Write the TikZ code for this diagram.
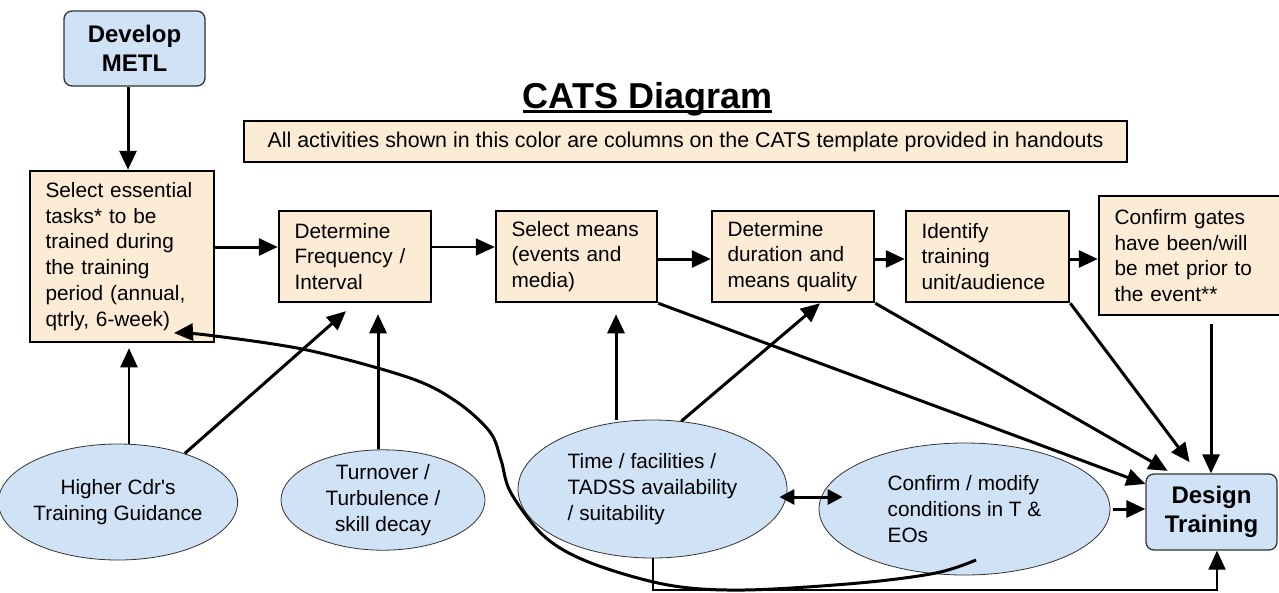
\documentclass[tikz,border=0pt]{standalone}
\usepackage{fontspec}
\setmainfont{Liberation Sans}
\newfontfamily\plainsans{Liberation Sans}
\usetikzlibrary{shapes.geometric,arrows.meta,calc}
\definecolor{peach}{RGB}{252,235,213}
\definecolor{skyb}{RGB}{208,226,246}
\newcommand\bodyf{\fontsize{20.8}{25.8}\selectfont}
\newcommand\boldf{\fontsize{24}{29.5}\selectfont\bfseries}
\newsavebox\tbox
\newcommand\ulbold[1]{\sbox\tbox{#1}\usebox\tbox\llap{\rule[-5pt]{\wd\tbox}{2.6pt}}}
\begin{document}
\begin{tikzpicture}[x=1pt,y=-1pt,
  pbox/.style={draw, line width=2.5pt, fill=peach, align=left, inner xsep=15.5pt, inner ysep=0pt, font=\bodyf},
  bbox/.style={draw=black!80, line width=1.3pt, fill=skyb, rounded corners=8pt, align=center, font=\boldf, inner sep=0pt},
  oval/.style={ellipse, draw=black!80, line width=0.8pt, fill=skyb, inner sep=0pt, font=\bodyf},
  arr/.style={line width=3pt, -{Triangle[length=19pt,width=17pt]}},
  tarr/.style={line width=2pt, -{Triangle[length=19pt,width=17pt]}},
  dblarr/.style={line width=3pt, {Triangle[length=15pt,width=15pt]}-{Triangle[length=15pt,width=15pt]}},
]
\useasboundingbox (0,0) rectangle (1279,592);
% column / row helper coordinates
\coordinate (c128) at (128,0);
\coordinate (c129) at (129,0);
\coordinate (c378) at (378,0);
\coordinate (c616) at (616,0);
\coordinate (c820) at (820,0);
\coordinate (c1172) at (1172,0);
\coordinate (c1198) at (1198,0);
\coordinate (c1211) at (1211,0);
\coordinate (r247) at (0,247);
\coordinate (r259) at (0,259);
\coordinate (r484) at (0,484);
\coordinate (bl) at (1217,590);
\coordinate (hook) at (976,560);
\coordinate (selTip) at (174,333);

% title and legend
\node[anchor=base, font=\fontsize{36}{40}\selectfont\bfseries] (title) at (647.5,108) {\ulbold{CATS Diagram}};
\node[draw, line width=2.5pt, fill=peach, minimum width=883pt, minimum height=41pt, inner sep=0pt, font=\fontsize{21.4}{24}\selectfont] (legend) at (685.5,141.5) {All activities shown in this color are columns on the CATS template provided in handouts};

% blue rounded boxes
\node[bbox, minimum width=141pt, minimum height=75pt] (metl) at (134.5,48.5) {Develop\\METL};
\node[bbox, minimum width=131pt, minimum height=76pt] (design) at (1211.5,512) {Design\\Training};

% peach boxes
\node[pbox, text width=153pt, minimum height=171pt] (sel) at (122,256.5) {Select essential\\tasks* to be\\trained during\\the training\\period (annual,\\qtrly, 6-week)};
\node[pbox, text width=121pt, minimum height=91pt] (freq) at (355,256.5) {Determine\\Frequency /\\Interval};
\node[pbox, text width=130pt, minimum height=91pt] (means) at (576.5,256.5) {Select means\\(events and\\media)};
\node[pbox, text width=131pt, minimum height=91pt] (dur) at (793,256.5) {Determine\\duration and\\means quality};
\node[pbox, text width=132pt, minimum height=91pt] (ident) at (987.5,256.5) {Identify\\training\\unit/audience};
\node[pbox, text width=160pt, minimum height=119pt] (gates) at (1194.5,255.5) {Confirm gates\\have been/will\\be met prior to\\the event**};

% ellipses
\node[oval, minimum width=216pt, minimum height=116pt, align=center] (higher) at (118,502) {Higher Cdr{\plainsans '}s\\Training Guidance};
\node[oval, minimum width=204pt, minimum height=94pt, align=center] (turn) at (383,500) {Turnover /\\Turbulence /\\skill decay};
\node[oval, minimum width=269pt, minimum height=138pt, align=left] (time) at (652.5,489) {Time / facilities /\\TADSS availability\\/ suitability};
\node[oval, minimum width=291pt, minimum height=132pt, align=left] (confirm) at (964.5,509) {Confirm / modify\\conditions in T \&\\EOs};

% top flow
\draw[arr] (metl.south -| c128) -- (sel.north -| c128);
\draw[arr] (sel.east |- r247) -- (freq.west |- r247);
\draw[tarr] (freq.east |- r247) -- (means.west |- r247);
\draw[arr] (means.east |- r259) -- (dur.west |- r259);
\draw[arr] (dur.east |- r259) -- (ident.west |- r259);
\draw[arr] (ident.east |- r259) -- (gates.west |- r259);

% inputs from ellipses
\draw[tarr, shorten >=5pt] (higher.north -| c129) -- (sel.south -| c129);
\draw[arr, shorten >=12pt] (higher.36) -- (freq.south);
\draw[arr, shorten >=11pt] (turn.north -| c378) -- (freq.south -| c378);
\draw[arr, shorten >=11pt] (time.north -| c616) -- (means.south -| c616);
\draw[arr] (time.67) -- (dur.south -| c820);

% into Design Training
\draw[arr] (means.south east) -- (design.west |- r484);
\draw[arr, shorten >=5pt] (dur.south east) -- (design.north -| c1172);
\draw[arr, shorten >=14pt] (ident.south east) -- (design.north -| c1198);
\draw[arr, shorten <=8pt] (gates.south -| c1211) -- (design.north -| c1211);
\draw[arr, shorten <=3pt] (confirm.east) -- (confirm.east -| design.west);
\draw[dblarr] ($(time.east)+(-8,8)$) -- ($(confirm.west)+(24,-12)$);
\draw[tarr] (time.south) |- (bl) -- (design.south -| bl);

% long feedback curve
\draw[arr] plot[smooth, tension=0.55] coordinates {(hook) (936,573) (859,583) (744,590) (668,585) (591,563) (545,537) (511,493) (501,460) (490,432) (457,402) (410,378) (307,350) (207,335) (selTip)};
\end{tikzpicture}
\end{document}
